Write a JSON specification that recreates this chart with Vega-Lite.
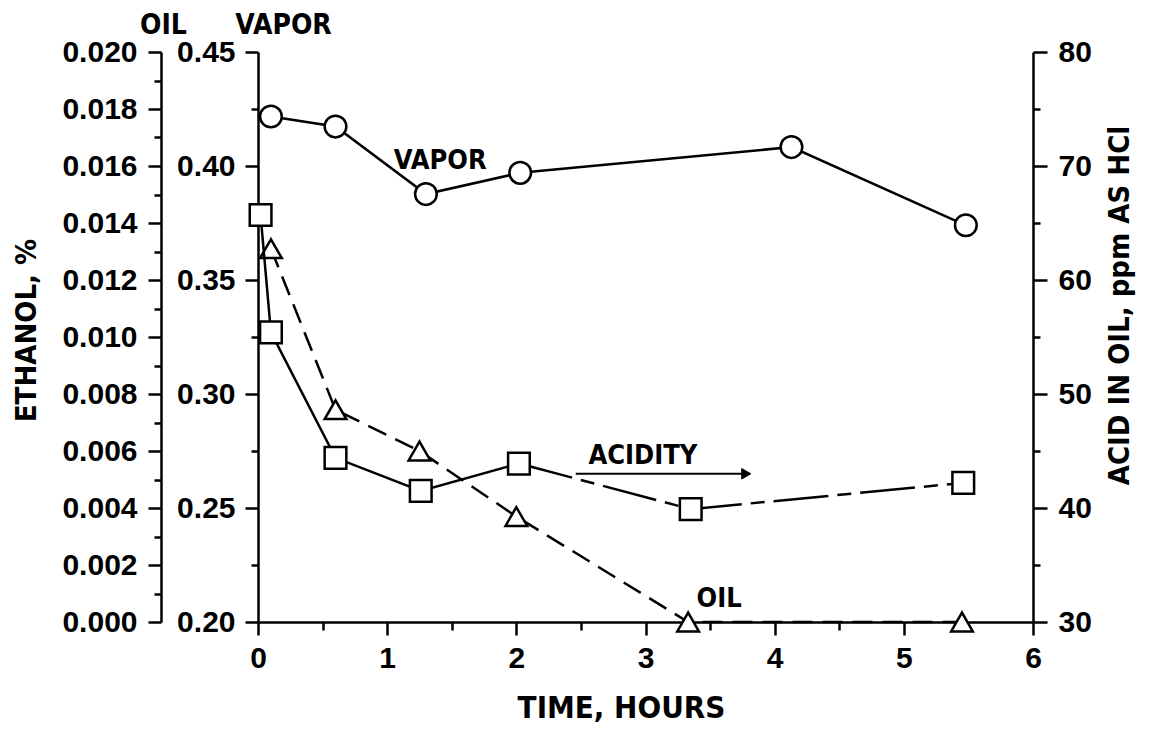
{
  "$schema": "https://vega.github.io/schema/vega-lite/v6.json",
  "width": 775,
  "height": 570,
  "autosize": {"type": "none"},
  "padding": {"left": 258, "top": 52, "right": 117, "bottom": 108},
  "background": "white",
  "datasets": {
    "oil": [
      {"t": 0.1, "ethanol": 0.0131},
      {"t": 0.6, "ethanol": 0.00745},
      {"t": 1.25, "ethanol": 0.0060},
      {"t": 2.0, "ethanol": 0.0037},
      {"t": 3.33, "ethanol": 0.0},
      {"t": 5.45, "ethanol": 0.0}
    ],
    "vapor": [
      {"t": 0.1, "vapor": 0.4217},
      {"t": 0.6, "vapor": 0.4173},
      {"t": 1.3, "vapor": 0.3877},
      {"t": 2.03, "vapor": 0.397},
      {"t": 4.13, "vapor": 0.4083},
      {"t": 5.48, "vapor": 0.374}
    ],
    "acid": [
      {"t": 0.02, "acid": 65.7, "seg": "solid"},
      {"t": 0.1, "acid": 55.4, "seg": "solid"},
      {"t": 0.6, "acid": 44.4, "seg": "solid"},
      {"t": 1.26, "acid": 41.5, "seg": "solid"},
      {"t": 2.02, "acid": 43.9, "seg": "solid"},
      {"t": 2.02, "acid": 43.9, "seg": "dash"},
      {"t": 3.35, "acid": 39.9, "seg": "dash"},
      {"t": 5.46, "acid": 42.2, "seg": "dash"}
    ],
    "notes": [
      {"label": "VAPOR", "t": 1.41, "acid": 70.4},
      {"label": "ACIDITY", "t": 2.98, "acid": 44.6},
      {"label": "OIL", "t": 3.57, "acid": 32.0}
    ],
    "arrow": [
      {"t": 2.46, "t2": 3.78, "acid": 43.0}
    ]
  },
  "encoding": {
    "x": {
      "field": "t",
      "type": "quantitative",
      "scale": {"domain": [0, 6], "nice": false, "zero": false},
      "axis": {
        "values": [0, 0.5, 1, 1.5, 2, 2.5, 3, 3.5, 4, 4.5, 5, 5.5, 6],
        "format": ".0f",
        "labelExpr": "datum.value % 1 == 0 ? datum.label : ''",
        "tickSize": {"condition": {"test": "datum.value % 1 == 0", "value": 13}, "value": 8},
        "labelPadding": 8,
        "labelFlush": false,
        "labelOverlap": false,
        "title": "TIME, HOURS",
        "titleFontSize": 31,
        "titleX": 363,
        "titleY": 86,
        "titleAlign": "center",
        "titleBaseline": "middle"
      }
    }
  },
  "layer": [
    {
      "data": {"name": "oil"},
      "mark": {"type": "line", "stroke": "black", "strokeWidth": 2.5, "strokeDash": [20, 10]},
      "encoding": {
        "y": {
          "field": "ethanol", "type": "quantitative",
          "scale": {"domain": [0, 0.02], "nice": false, "zero": false},
          "axis": {
            "orient": "left", "offset": 97,
            "values": [0, 0.001, 0.002, 0.003, 0.004, 0.005, 0.006, 0.007, 0.008, 0.009, 0.01, 0.011, 0.012, 0.013, 0.014, 0.015, 0.016, 0.017, 0.018, 0.019, 0.02],
            "format": ".3f",
            "labelExpr": "abs(datum.value*500 - round(datum.value*500)) < 0.01 ? datum.label : ''",
            "tickSize": {"condition": {"test": "abs(datum.value*500 - round(datum.value*500)) < 0.01", "value": 13}, "value": 7},
            "labelPadding": 11,
            "labelOverlap": false,
            "labelFlush": false,
            "title": "ETHANOL, %",
            "titleAngle": 270,
            "titleX": -135,
            "titleY": 278,
            "titleAlign": "center",
            "titleBaseline": "middle"
          }
        }
      }
    },
    {
      "data": {"name": "oil"},
      "mark": {"type": "point", "shape": "triangle-up", "size": 470, "filled": true, "fill": "white", "stroke": "black", "strokeWidth": 2.5, "opacity": 1},
      "encoding": {
        "y": {
          "field": "ethanol", "type": "quantitative",
          "scale": {"domain": [0, 0.02], "nice": false, "zero": false},
          "axis": {
            "orient": "left", "offset": 97,
            "domain": false, "ticks": false, "labels": false,
            "title": "OIL",
            "titleAngle": 0,
            "titleX": 2,
            "titleY": -27,
            "titleAlign": "center",
            "titleBaseline": "middle",
            "titleFontSize": 28
          }
        }
      }
    },
    {
      "data": {"name": "vapor"},
      "mark": {"type": "line", "stroke": "black", "strokeWidth": 2.5},
      "encoding": {
        "y": {
          "field": "vapor", "type": "quantitative",
          "scale": {"domain": [0.2, 0.45], "nice": false, "zero": false},
          "axis": {
            "orient": "left", "offset": 0,
            "values": [0.2, 0.225, 0.25, 0.275, 0.3, 0.325, 0.35, 0.375, 0.4, 0.425, 0.45],
            "format": ".2f",
            "labelExpr": "abs(datum.value*20 - round(datum.value*20)) < 0.01 ? datum.label : ''",
            "tickSize": {"condition": {"test": "abs(datum.value*20 - round(datum.value*20)) < 0.01", "value": 13}, "value": 7},
            "labelPadding": 10,
            "labelOverlap": false,
            "labelFlush": false,
            "title": "VAPOR",
            "titleAngle": 0,
            "titleX": 25,
            "titleY": -27,
            "titleAlign": "center",
            "titleBaseline": "middle",
            "titleFontSize": 28
          }
        }
      }
    },
    {
      "data": {"name": "vapor"},
      "mark": {"type": "point", "shape": "circle", "size": 470, "filled": true, "fill": "white", "stroke": "black", "strokeWidth": 2.5, "opacity": 1},
      "encoding": {
        "y": {
          "field": "vapor", "type": "quantitative",
          "scale": {"domain": [0.2, 0.45], "nice": false, "zero": false},
          "axis": null
        }
      }
    },
    {
      "data": {"name": "acid"},
      "transform": [{"filter": "datum.seg == 'solid'"}],
      "mark": {"type": "line", "stroke": "black", "strokeWidth": 2.5},
      "encoding": {
        "y": {
          "field": "acid", "type": "quantitative",
          "scale": {"domain": [30, 80], "nice": false, "zero": false},
          "axis": {
            "orient": "right",
            "values": [30, 35, 40, 45, 50, 55, 60, 65, 70, 75, 80],
            "labelExpr": "datum.value % 10 == 0 ? datum.label : ''",
            "tickSize": {"condition": {"test": "datum.value % 10 == 0", "value": 14}, "value": 7},
            "labelPadding": 11,
            "labelOverlap": false,
            "labelFlush": false,
            "title": "ACID IN OIL, ppm AS HCl",
            "titleAngle": 270,
            "titleX": 86,
            "titleY": 253,
            "titleAlign": "center",
            "titleBaseline": "middle"
          }
        }
      }
    },
    {
      "data": {"name": "acid"},
      "transform": [{"filter": "datum.seg == 'dash'"}],
      "mark": {"type": "line", "stroke": "black", "strokeWidth": 2.5, "strokeDash": [55, 9, 14, 9]},
      "encoding": {
        "y": {
          "field": "acid", "type": "quantitative",
          "scale": {"domain": [30, 80], "nice": false, "zero": false},
          "axis": null
        }
      }
    },
    {
      "data": {"name": "acid"},
      "transform": [{"filter": "datum.seg == 'solid' || datum.t > 2.5"}],
      "mark": {"type": "point", "shape": "square", "size": 470, "filled": true, "fill": "white", "stroke": "black", "strokeWidth": 2.5, "opacity": 1},
      "encoding": {
        "y": {
          "field": "acid", "type": "quantitative",
          "scale": {"domain": [30, 80], "nice": false, "zero": false},
          "axis": null
        }
      }
    },
    {
      "data": {"name": "arrow"},
      "mark": {"type": "rule", "stroke": "black", "strokeWidth": 2},
      "encoding": {
        "x2": {"field": "t2"},
        "y": {
          "field": "acid", "type": "quantitative",
          "scale": {"domain": [30, 80], "nice": false, "zero": false},
          "axis": null
        }
      }
    },
    {
      "data": {"name": "arrow"},
      "mark": {"type": "point", "shape": "triangle-right", "size": 110, "filled": true, "fill": "black", "stroke": "black", "strokeWidth": 1, "opacity": 1},
      "encoding": {
        "x": {"field": "t2", "type": "quantitative"},
        "y": {
          "field": "acid", "type": "quantitative",
          "scale": {"domain": [30, 80], "nice": false, "zero": false},
          "axis": null
        }
      }
    },
    {
      "data": {"name": "notes"},
      "mark": {"type": "text", "font": "DejaVu Sans Condensed, Roboto Condensed, Roboto, sans-serif", "fontSize": 27, "fontWeight": "bold", "color": "black", "align": "center", "baseline": "middle"},
      "encoding": {
        "text": {"field": "label"},
        "y": {
          "field": "acid", "type": "quantitative",
          "scale": {"domain": [30, 80], "nice": false, "zero": false},
          "axis": null
        }
      }
    }
  ],
  "resolve": {"scale": {"y": "independent"}, "axis": {"y": "independent"}},
  "config": {
    "view": {"stroke": null},
    "axis": {
      "grid": false,
      "domainColor": "black",
      "domainWidth": 2.5,
      "tickColor": "black",
      "tickWidth": 2.5,
      "labelColor": "black",
      "labelFont": "Liberation Sans",
      "labelFontWeight": "bold",
      "labelFontSize": 30,
      "titleFont": "DejaVu Sans Condensed, Roboto Condensed, Roboto, sans-serif",
      "titleFontSize": 29,
      "titleFontWeight": "bold",
      "titleColor": "black"
    }
  }
}
